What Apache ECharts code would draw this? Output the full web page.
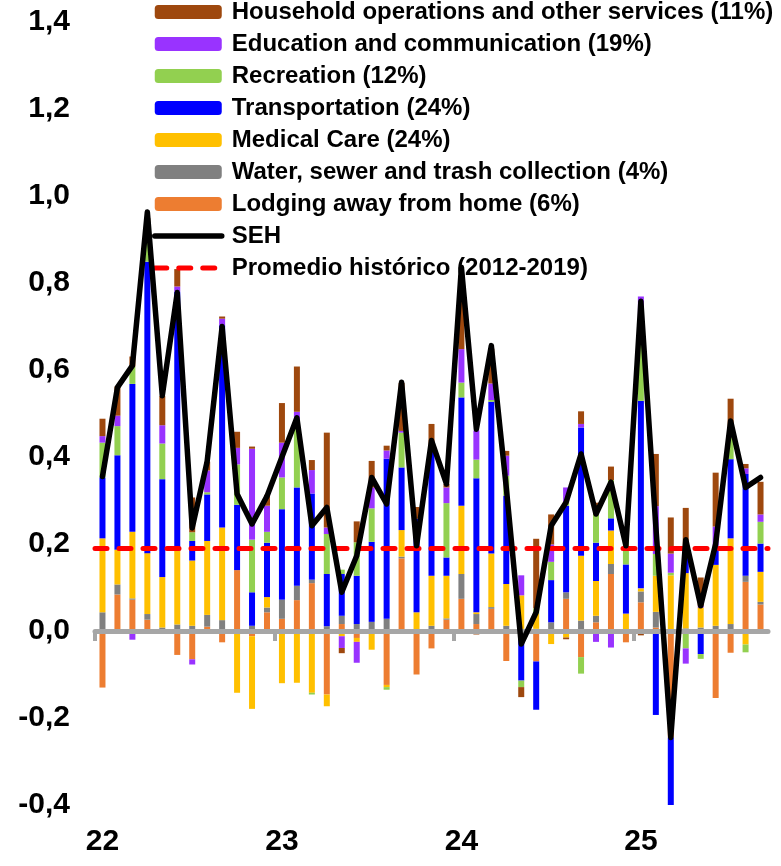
<!DOCTYPE html>
<html>
<head>
<meta charset="utf-8">
<script src="https://cdn.jsdelivr.net/npm/echarts@6/dist/echarts.min.js"></script>
<style>
html, body { margin: 0; padding: 0; background: #fff; }
#chart { width: 781px; height: 866px; }
</style>
</head>
<body>
<div id="chart"></div>
<script>
// meses ene-22 .. sep-25
var meses = ['ene-22','feb-22','mar-22','abr-22','may-22','jun-22','jul-22','ago-22','sep-22','oct-22','nov-22','dic-22',
             'ene-23','feb-23','mar-23','abr-23','may-23','jun-23','jul-23','ago-23','sep-23','oct-23','nov-23','dic-23',
             'ene-24','feb-24','mar-24','abr-24','may-24','jun-24','jul-24','ago-24','sep-24','oct-24','nov-24','dic-24',
             'ene-25','feb-25','mar-25','abr-25','may-25','jun-25','jul-25','ago-25','sep-25'];
// cortes entre años (en posiciones de categoría)
var marcasAnio = [-0.5, 11.5, 23.5, 35.5];

var lodging = [-0.13, 0.084, 0.072, 0.026, 0, -0.055, -0.065, 0.01, -0.026, 0.14, -0.012, 0.043, 0.028, 0.071, 0.11, -0.146, 0.016, -0.016, 0, -0.124, 0.167, -0.1, -0.04, 0.026, 0.074, 0.016, 0.051, -0.069, 0, -0.07, 0, 0.074, -0.06, 0.02, 0.131, -0.026, 0.066, 0.008, -0.245, 0, 0, -0.154, -0.05, 0.113, 0.061];
var water = [0.043, 0.023, 0.003, 0.013, 0.008, 0.015, 0.012, 0.027, 0.025, 0, 0.012, 0.011, 0.044, 0.033, 0.008, 0.011, 0.019, 0.016, 0.021, 0.028, 0.004, 0, 0.012, 0.003, 0.057, 0.023, 0.004, 0.012, 0.005, 0.005, 0.02, 0.015, 0.024, 0.015, 0.023, 0, 0.025, 0.036, 0, 0.006, 0.008, 0.012, 0.016, 0.014, 0.006];
var medical = [0.17, 0.08, 0.153, 0.14, 0.116, 0.17, 0.15, 0.17, 0.213, -0.142, -0.167, 0.024, -0.12, -0.119, -0.142, -0.027, -0.012, -0.009, -0.043, -0.005, 0.061, 0.043, 0.115, 0.098, 0.157, 0.004, 0.123, 0.096, 0.077, 0.035, -0.03, -0.015, 0.149, 0.08, 0.077, 0.04, 0.007, 0.083, 0.128, 0.127, 0.046, 0.14, 0.197, -0.031, 0.069];
var transport = [0.14, 0.217, 0.34, 0.67, 0.225, 0.595, 0.045, 0.107, 0.465, 0.15, 0.077, 0.125, 0.208, 0.226, 0.198, 0.12, 0.096, 0.111, 0.184, 0.368, 0.144, 0.215, 0.29, 0.042, 0.249, 0.308, 0.349, 0.203, -0.114, -0.111, 0.097, 0.199, 0.295, 0.088, 0.028, 0.113, 0.431, -0.193, -0.16, 0.063, -0.053, 0.04, 0.182, 0.234, 0.065];
var recreation = [0.08, 0.067, 0.04, 0.05, 0.082, 0, 0.02, 0.005, 0, 0.093, 0.121, 0.025, 0.073, 0.146, -0.004, 0.092, 0.01, 0.077, 0.077, -0.006, 0.08, 0, 0, 0.125, 0.034, 0.043, 0.004, 0.046, -0.015, 0.012, 0.042, 0.008, -0.038, 0.065, 0.088, 0.065, 0.19, 0.05, 0.006, -0.04, -0.011, 0, 0.054, -0.018, 0.05];
var education = [0.015, 0.024, -0.02, 0.02, 0.042, 0.012, -0.012, 0.05, 0.015, 0.038, 0.209, 0.06, 0.08, 0.028, 0.054, 0.015, -0.027, -0.048, 0.048, 0.019, 0.004, 0, 0.003, 0.036, 0.077, 0.067, 0.038, 0.046, 0.046, 0, 0.04, 0.034, 0.008, -0.025, -0.038, 0, 0.05, 0.11, 0.044, -0.035, 0.004, 0.048, 0.005, 0.013, 0.017];
var household = [0.04, 0.067, 0.023, 0.03, 0.067, 0.04, 0.08, 0.02, 0.005, 0.037, 0.005, 0.025, 0.091, 0.104, 0.023, 0.218, -0.012, 0.048, 0.061, 0.011, 0.11, 0.027, 0.056, 0.008, 0.17, -0.008, 0.08, 0.011, -0.023, 0.16, 0.069, -0.004, 0.029, 0.027, 0.031, 0, -0.01, 0.12, 0.083, 0.087, 0.065, 0.124, 0.08, 0.01, 0.075];
var seh = [0.355, 0.56, 0.61, 0.963, 0.541, 0.778, 0.237, 0.39, 0.70, 0.315, 0.246, 0.31, 0.40, 0.49, 0.242, 0.284, 0.089, 0.173, 0.353, 0.292, 0.572, 0.196, 0.438, 0.338, 0.836, 0.464, 0.656, 0.33, -0.03, 0.043, 0.242, 0.296, 0.407, 0.269, 0.342, 0.196, 0.758, 0.24, -0.245, 0.21, 0.058, 0.2, 0.483, 0.33, 0.353];
var promedio = [0.19];

var nombres = {
    household: 'Household operations and other services (11%)',
    education: 'Education and communication (19%)',
    recreation: 'Recreation (12%)',
    transport: 'Transportation (24%)',
    medical: 'Medical Care (24%)',
    water: 'Water, sewer and trash collection (4%)',
    lodging: 'Lodging away from home (6%)',
    seh: 'SEH',
    promedio: 'Promedio histórico (2012-2019)'
};

var fuente = "'Liberation Sans', Arial, sans-serif";

function barra(nombre, color, datos) {
    return {
        name: nombre,
        type: 'bar',
        stack: 'total',
        barWidth: 6,
        itemStyle: { color: color },
        data: datos,
        z: 2
    };
}

// en la leyenda las series de línea van sin el círculo
function itemLinea(nombre) {
    return { name: nombre, itemStyle: { opacity: 0 }, lineStyle: { width: 'inherit', cap: 'round' } };
}

var chart = echarts.init(document.getElementById('chart'));

var option = {
    animation: false,
    grid: { left: 95, right: 13, top: 22, bottom: 61 },
    legend: {
        orient: 'vertical',
        left: 152,
        top: 0,
        padding: 0,
        itemWidth: 67,
        itemHeight: 14,
        itemGap: 8,
        selectedMode: false,
        lineStyle: { width: 'inherit' },
        textStyle: { fontFamily: fuente, fontWeight: 'bold', fontSize: 24, color: '#000', padding: [0, 0, 0, 5] },
        data: [nombres.household, nombres.education, nombres.recreation, nombres.transport,
               nombres.medical, nombres.water, nombres.lodging, itemLinea(nombres.seh), itemLinea(nombres.promedio)]
    },
    xAxis: [
        {
            // etiquetas de año abajo
            type: 'category',
            data: meses,
            position: 'bottom',
            axisLine: { show: false, onZero: false },
            axisTick: { show: false },
            axisLabel: {
                interval: function (i) { return i % 12 === 0; },
                formatter: function (v) { return v.slice(-2); },
                fontFamily: fuente, fontWeight: 'bold', fontSize: 30, color: '#000',
                margin: 22
            }
        },
        {
            // eje en cero con marcas entre años
            type: 'value',
            min: -0.5,
            max: meses.length - 0.5,
            position: 'bottom',
            z: 3,
            splitLine: { show: false },
            axisLine: { show: true, onZero: true, onZeroAxisIndex: 0, lineStyle: { color: '#A6A6A6', width: 5 } },
            axisTick: {
                show: true,
                customValues: marcasAnio,
                length: 10,
                lineStyle: { color: '#A6A6A6', width: 4 }
            },
            axisLabel: { show: false }
        }
    ],
    yAxis: {
        type: 'value',
        min: -0.4,
        max: 1.4,
        interval: 0.2,
        axisLine: { show: false },
        axisTick: { show: false },
        splitLine: { show: false },
        axisLabel: {
            formatter: function (v) { return v.toFixed(1).replace('.', ','); },
            fontFamily: fuente, fontWeight: 'bold', fontSize: 30, color: '#000',
            margin: 25
        }
    },
    series: [
        barra(nombres.lodging, '#ED7D31', lodging),
        barra(nombres.water, '#808080', water),
        barra(nombres.medical, '#FFC000', medical),
        barra(nombres.transport, '#0000FF', transport),
        barra(nombres.recreation, '#92D050', recreation),
        barra(nombres.education, '#9933FF', education),
        barra(nombres.household, '#9E480E', household),
        {
            name: nombres.promedio,
            type: 'line',
            symbol: 'none',
            data: [],
            z: 4,
            itemStyle: { color: '#FF0000' },
            lineStyle: { color: '#FF0000', width: 5, type: [12, 12], cap: 'round' },
            markLine: {
                silent: true,
                symbol: 'none',
                label: { show: false },
                lineStyle: { color: '#FF0000', width: 5, type: [12, 12], cap: 'round' },
                data: [{ yAxis: promedio[0] }]
            }
        },
        {
            name: nombres.seh,
            type: 'line',
            symbol: 'none',
            data: seh,
            z: 5,
            itemStyle: { color: '#000' },
            lineStyle: { color: '#000', width: 5.5, join: 'round', cap: 'round' }
        }
    ]
};

chart.setOption(option);
</script>
</body>
</html>
